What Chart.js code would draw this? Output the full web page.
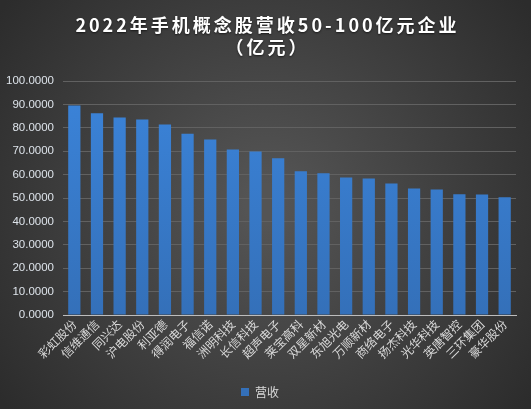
<!DOCTYPE html>
<html>
<head>
<meta charset="utf-8">
<script src="https://cdn.jsdelivr.net/npm/chart.js@4/dist/chart.umd.min.js"></script>
<style>
  html, body { margin: 0; padding: 0; background: #333; }
  #wrap { width: 531px; height: 409px; position: relative; }
</style>
</head>
<body>
<div id="wrap"><canvas id="barchart"></canvas></div>
<script>
// data
const companies = ['彩虹股份', '信维通信', '同兴达', '沪电股份', '利亚德', '得润电子', '福信诺',
    '洲明科技', '长信科技', '超声电子', '莱宝高科', '双星新材', '东旭光电', '万顺新材',
    '商络电子', '扬杰科技', '光华科技', '英唐智控', '三环集团', '豪华股份'];
const revenue = [89.5, 86.2, 84.4, 83.5, 81.4, 77.5, 75.0, 70.7, 69.9, 67.0,
    61.4, 60.6, 58.8, 58.3, 56.2, 54.1, 53.6, 51.6, 51.5, 50.3];
const yTicks = [0, 10, 20, 30, 40, 50, 60, 70, 80, 90, 100];
const titleLines = ['2022年手机概念股营收50-100亿元企业', '（亿元）'];

// dark radial backdrop behind everything
const backdrop = {
    id: 'backdrop',
    beforeDraw(chart) {
        const ctx = chart.ctx;
        const w = chart.width, h = chart.height;
        const g = ctx.createRadialGradient(w * 0.5, h * 0.5, 20, w * 0.5, h * 0.5, w * 0.62);
        g.addColorStop(0, '#545454');
        g.addColorStop(1, '#2c2c2c');
        ctx.save();
        ctx.fillStyle = g;
        ctx.fillRect(0, 0, w, h);
        ctx.restore();
    }
};

// spaced-out two line title, like the original
const spacedTitle = {
    id: 'spacedTitle',
    afterDraw(chart) {
        const ctx = chart.ctx;
        ctx.save();
        ctx.font = 'bold 18px "Noto Sans CJK SC", sans-serif';
        ctx.letterSpacing = '3px';
        ctx.fillStyle = '#ffffff';
        ctx.textAlign = 'center';
        ctx.textBaseline = 'middle';
        ctx.shadowColor = 'rgba(0,0,0,0.6)';
        ctx.shadowBlur = 2;
        ctx.shadowOffsetY = 1;
        titleLines.forEach((t, i) => ctx.fillText(t, chart.width / 2 + 2, 25 + i * 22));
        ctx.restore();
    }
};

function barFill(context) {
    const area = context.chart.chartArea;
    if (!area) return '#3a7dcf';
    const g = context.chart.ctx.createLinearGradient(0, area.top, 0, area.bottom);
    g.addColorStop(0, '#3b84da');
    g.addColorStop(1, '#3470b9');
    return g;
}

let ctxb = document.getElementById('barchart').getContext('2d');
let chartb = new Chart(ctxb, {
    type: 'bar',
    data: {
        labels: companies,
        datasets: [{
            label: '营收',
            data: revenue,
            backgroundColor: barFill,
            borderWidth: 0,
            barPercentage: 0.54,
            categoryPercentage: 1.0
        }]
    },
    options: {
        responsive: true,
        maintainAspectRatio: false,
        animation: false,
        devicePixelRatio: 1,
        layout: { padding: { left: 4, right: 15, top: 81, bottom: 1 } },
        plugins: {
            title: { display: false },
            legend: {
                position: 'bottom',
                labels: {
                    color: '#d9d9d9',
                    boxWidth: 8,
                    boxHeight: 8,
                    padding: 10,
                    font: { family: '"Noto Sans CJK SC", sans-serif', size: 12 }
                }
            },
            tooltip: { enabled: false }
        },
        scales: {
            x: {
                grid: { display: false, drawTicks: false },
                border: { display: true, color: '#bdbdbd', width: 1 },
                afterFit(axis) { axis.height = 61; },
                ticks: {
                    color: '#d9d9d9',
                    minRotation: 45,
                    maxRotation: 45,
                    autoSkip: false,
                    padding: 2,
                    font: { family: '"Noto Sans CJK SC", sans-serif', size: 12 }
                }
            },
            y: {
                min: 0,
                max: 100,
                afterBuildTicks(axis) { axis.ticks = yTicks.map(v => ({ value: v })); },
                afterFit(axis) { axis.width = 59; },
                grid: { color: '#616161', lineWidth: 1, drawTicks: false },
                border: { display: false },
                ticks: {
                    color: '#dde3ea',
                    padding: 9,
                    callback: v => Number(v).toFixed(4),
                    font: { family: '"Liberation Sans", "Open Sans", sans-serif', size: 11.5 }
                }
            }
        }
    },
    plugins: [backdrop, spacedTitle]
});
</script>
</body>
</html>
